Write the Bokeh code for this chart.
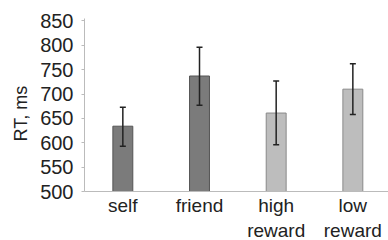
from bokeh.plotting import figure
from bokeh.models import ColumnDataSource, Whisker, TeeHead, FixedTicker, Range1d, Title
from bokeh.embed import file_html
from bokeh.resources import INLINE

categories = ["self", "friend", "high\nreward", "low\nreward"]
rt_means = [634, 737, 661, 710]
err_upper = [673, 796, 727, 762]
err_lower = [593, 677, 596, 658]
fill_colors = ["#7b7b7b", "#7b7b7b", "#bdbdbd", "#bdbdbd"]
line_colors = ["#555555", "#555555", "#8a8a8a", "#8a8a8a"]
y_ticks = [500, 550, 600, 650, 700, 750, 800, 850]
y_title = "RT, ms"

xs = list(range(len(categories)))
src = ColumnDataSource(dict(x=xs, top=rt_means, upper=err_upper, lower=err_lower,
                            fill=fill_colors, line=line_colors))

p = figure(width=388, height=259, output_backend="svg", toolbar_location=None,
           x_range=Range1d(-0.5, 3.465), y_range=Range1d(500, 855),
           min_border_left=84, min_border_right=0, min_border_top=18, min_border_bottom=68)
p.outline_line_color = None
p.grid.grid_line_color = None
p.background_fill_color = "white"

p.vbar(x="x", top="top", bottom=500, width=0.26, source=src,
       fill_color="fill", line_color="line", line_width=1)

w = Whisker(base="x", upper="upper", lower="lower", source=src, level="overlay",
            line_color="#222222", line_width=1.5,
            upper_head=TeeHead(size=6, line_color="#222222", line_width=1.5),
            lower_head=TeeHead(size=6, line_color="#222222", line_width=1.5))
p.add_layout(w)

font = "Liberation Sans"
p.yaxis.ticker = FixedTicker(ticks=y_ticks)
p.yaxis.axis_line_color = "#bbbbbb"
p.yaxis.major_tick_line_color = "#bbbbbb"
p.yaxis.major_tick_in = 0
p.yaxis.major_tick_out = 3
p.yaxis.minor_tick_line_color = None
p.yaxis.major_label_text_font = font
p.yaxis.major_label_text_font_size = "20px"
p.yaxis.major_label_text_color = "#222222"
p.yaxis.major_label_standoff = 8

# y-axis title as a left-side Title, placed slightly below the frame centre like the reference
p.add_layout(Title(text=y_title, align="left", offset=50, standoff=14,
                   text_font=font, text_font_size="18px", text_font_style="normal",
                   text_color="#222222"), "left")

p.xaxis.ticker = FixedTicker(ticks=xs)
p.xaxis.major_label_overrides = {i: c for i, c in enumerate(categories)}
p.xaxis.axis_line_color = "#bbbbbb"
p.xaxis.major_tick_line_color = None
p.xaxis.minor_tick_line_color = None
p.xaxis.major_label_text_font = font
p.xaxis.major_label_text_font_size = "19px"
p.xaxis.major_label_text_color = "#222222"
p.xaxis.major_label_standoff = -3

open("out.html", "w").write(file_html(p, INLINE))
